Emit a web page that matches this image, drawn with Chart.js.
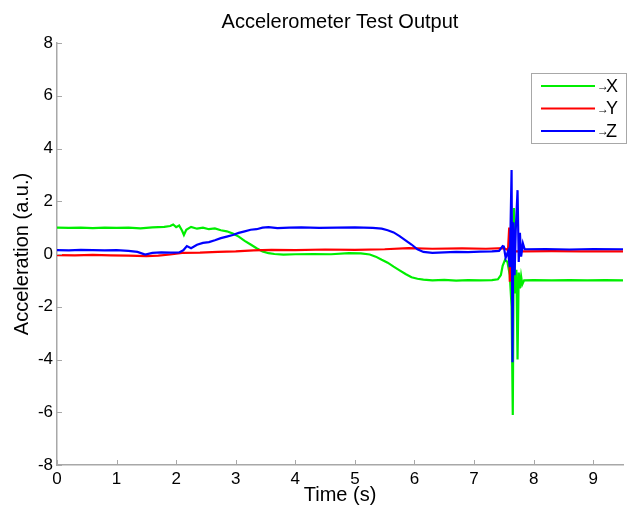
<!DOCTYPE html>
<html>
<head>
<meta charset="utf-8">
<script src="https://cdn.jsdelivr.net/npm/chart.js@4"></script>
<style>
html, body { margin: 0; padding: 0; background: #fff; }
</style>
</head>
<body>
<canvas id="chart" width="642" height="508"></canvas>
<script>
const chartTitle = 'Accelerometer Test Output'
const seriesLabels = ['→X', '→Y', '→Z']
const seriesColors = ['#00ee00', '#ff0000', '#0000ff']
const xTicks = [0, 1, 2, 3, 4, 5, 6, 7, 8, 9]
const yTicks = [-8, -6, -4, -2, 0, 2, 4, 6, 8]

// X axis (green)
const xTime = [0, 0.2, 0.4, 0.6, 0.8, 1.0, 1.2, 1.4, 1.6, 1.8, 1.9, 1.95, 2.0, 2.05, 2.1, 2.13, 2.17, 2.25, 2.35, 2.45,
	2.55, 2.65, 2.75, 2.85, 2.95, 3.05, 3.15, 3.25, 3.35, 3.45, 3.55, 3.65, 3.8, 4.0, 4.3, 4.6, 4.9, 5.1, 5.25, 5.35,
	5.45, 5.55, 5.65, 5.75, 5.85, 5.95, 6.05, 6.15, 6.3, 6.5, 6.7, 6.9, 7.1, 7.3, 7.4, 7.45, 7.48, 7.52, 7.56, 7.6,
	7.63, 7.65, 7.67, 7.69, 7.71, 7.73, 7.75, 7.77, 7.79, 7.81, 7.84, 8.0, 8.3, 8.6, 8.9, 9.2, 9.5]
const xAccel = [1.0, 0.99, 1.0, 0.98, 1.0, 0.99, 1.0, 0.97, 1.01, 1.03, 1.06, 1.12, 1.02, 1.08, 0.88, 0.72, 0.92, 1.03, 0.96, 1.0,
	0.94, 0.97, 0.9, 0.86, 0.78, 0.66, 0.5, 0.36, 0.22, 0.1, 0.03, 0.0, -0.02, -0.01, 0.0, -0.01, 0.03, 0.02, -0.02, -0.1,
	-0.22, -0.33, -0.48, -0.62, -0.76, -0.88, -0.94, -0.97, -1.0, -0.98, -1.01, -0.99, -1.0, -0.99, -0.96, -0.8, -0.45, -0.22, -0.3, -0.8,
	-2.0, -6.1, 1.74, -1.5, -0.6, -4.0, -0.7, -1.3, -0.85, -1.15, -1.0, -0.99, -1.0, -0.99, -1.0, -0.99, -1.0]

// Y axis (red)
const yTime = [0, 0.3, 0.6, 0.9, 1.2, 1.5, 1.7, 1.9, 2.1, 2.4, 2.7, 3.0, 3.3, 3.6, 4.0, 4.5, 5.0, 5.5, 5.9, 6.3,
	6.8, 7.2, 7.5, 7.57, 7.59, 7.6, 7.62, 7.7, 7.85, 8.3, 8.8, 9.5]
const yAccel = [-0.04, -0.05, -0.03, -0.05, -0.06, -0.08, -0.06, -0.02, 0.04, 0.05, 0.08, 0.1, 0.14, 0.16, 0.15, 0.17, 0.16, 0.18, 0.22, 0.2,
	0.21, 0.2, 0.22, 0.15, 1.0, -1.05, 0.2, 0.1, 0.1, 0.11, 0.1, 0.1]

// Z axis (blue)
const zTime = [0, 0.2, 0.4, 0.6, 0.8, 1.0, 1.2, 1.35, 1.48, 1.6, 1.75, 1.9, 2.05, 2.12, 2.18, 2.25, 2.35, 2.45, 2.55, 2.65,
	2.75, 2.85, 2.95, 3.05, 3.15, 3.25, 3.35, 3.45, 3.55, 3.7, 3.9, 4.1, 4.4, 4.7, 5.0, 5.3, 5.45, 5.55, 5.65, 5.75,
	5.85, 5.95, 6.05, 6.15, 6.3, 6.5, 6.7, 6.9, 7.1, 7.3, 7.42, 7.48, 7.5, 7.53, 7.57, 7.6, 7.63, 7.645, 7.66, 7.68,
	7.7, 7.73, 7.75, 7.77, 7.79, 7.82, 7.85, 8.2, 8.6, 9.0, 9.5]
const zAccel = [0.15, 0.14, 0.16, 0.15, 0.14, 0.15, 0.12, 0.08, -0.02, 0.04, 0.06, 0.05, 0.06, 0.14, 0.3, 0.22, 0.35, 0.42, 0.45, 0.52,
	0.6, 0.66, 0.72, 0.8, 0.86, 0.92, 0.94, 1.0, 1.02, 0.98, 1.0, 1.01, 0.99, 1.0, 1.01, 0.99, 0.96, 0.9, 0.82, 0.68,
	0.52, 0.36, 0.18, 0.08, 0.04, 0.06, 0.08, 0.07, 0.09, 0.1, 0.12, 0.3, 0.28, -0.15, 0.1, -0.5, 3.18, -4.1, 1.2, -0.8,
	0.9, 2.42, -0.3, 0.8, -0.1, 0.4, 0.18, 0.19, 0.17, 0.19, 0.18]

const toPoints = (times, values) => times.map((t, i) => ({ x: t, y: values[i] }))

const axisColor = '#a8a8a8'
const fontFamily = '"Liberation Sans", Arial, sans-serif'

const matlabLook = {
	id: 'matlabLook',
	afterDraw(chart) {
		const { ctx, chartArea, scales } = chart
		ctx.save()

		// inward tick marks
		ctx.strokeStyle = axisColor
		ctx.lineWidth = 1
		ctx.beginPath()
		xTicks.forEach((v) => {
			const px = Math.round(scales.x.getPixelForValue(v)) + 0.5
			ctx.moveTo(px, chartArea.bottom)
			ctx.lineTo(px, chartArea.bottom - 5)
		})
		yTicks.forEach((v) => {
			const py = Math.round(scales.y.getPixelForValue(v)) + 0.5
			ctx.moveTo(chartArea.left, py)
			ctx.lineTo(chartArea.left + 5, py)
		})
		ctx.stroke()

		// title centred over the axes
		ctx.fillStyle = '#000'
		ctx.font = '20px ' + fontFamily
		ctx.textAlign = 'center'
		ctx.textBaseline = 'middle'
		ctx.fillText(chartTitle, (chartArea.left + chartArea.right) / 2, 22)

		// legend box
		const bx = 531, by = 73, bw = 95, bh = 70
		ctx.fillStyle = '#fff'
		ctx.fillRect(bx, by, bw, bh)
		ctx.strokeStyle = '#a8a8a8'
		ctx.strokeRect(bx + 0.5, by + 0.5, bw, bh)
		chart.data.datasets.forEach((ds, i) => {
			const ly = 86 + i * 22.5
			ctx.strokeStyle = ds.borderColor
			ctx.lineWidth = 2
			ctx.beginPath()
			ctx.moveTo(541, ly)
			ctx.lineTo(595, ly)
			ctx.stroke()
			ctx.fillStyle = '#000'
			ctx.textAlign = 'left'
			ctx.font = '12px ' + fontFamily
			ctx.fillText(ds.label.charAt(0), 597, ly + 1)
			ctx.font = '18px ' + fontFamily
			ctx.fillText(ds.label.slice(1), 606, ly + 1)
		})
		ctx.restore()
	},
}

const ctx = document.getElementById('chart').getContext('2d')

new Chart(ctx, {
	type: 'scatter',
	data: {
		datasets: [
			{ label: seriesLabels[0], data: toPoints(xTime, xAccel), borderColor: seriesColors[0], order: 3 },
			{ label: seriesLabels[1], data: toPoints(yTime, yAccel), borderColor: seriesColors[1], order: 2 },
			{ label: seriesLabels[2], data: toPoints(zTime, zAccel), borderColor: seriesColors[2], order: 1 },
		].map((ds) => ({ ...ds, showLine: true, borderWidth: 2.2, pointRadius: 0, tension: 0, backgroundColor: ds.borderColor })),
	},
	options: {
		responsive: false,
		animation: false,
		devicePixelRatio: 1,
		layout: { padding: { top: 43, right: 19, left: 0, bottom: 0 } },
		plugins: {
			legend: { display: false },
			title: { display: false },
			tooltip: { enabled: false },
		},
		scales: {
			x: {
				type: 'linear',
				min: 0,
				max: 9.5,
				grid: { display: false, drawTicks: false },
				border: { display: true, color: axisColor, width: 1.5 },
				afterBuildTicks: (scale) => { scale.ticks = xTicks.map((v) => ({ value: v })) },
				afterFit: (scale) => { scale.height = 43 },
				ticks: { color: '#000', font: { family: fontFamily, size: 17 }, padding: 4, maxRotation: 0 },
				title: { display: true, text: 'Time (s)', color: '#000', font: { family: fontFamily, size: 20 }, padding: { top: 0, bottom: 1 } },
			},
			y: {
				type: 'linear',
				min: -8,
				max: 8,
				grid: { display: false, drawTicks: false },
				border: { display: true, color: axisColor, width: 1.5 },
				afterBuildTicks: (scale) => { scale.ticks = yTicks.map((v) => ({ value: v })) },
				afterFit: (scale) => { scale.width = 57 },
				ticks: { color: '#000', font: { family: fontFamily, size: 17 }, padding: 4 },
				title: { display: true, text: 'Acceleration (a.u.)', color: '#000', font: { family: fontFamily, size: 20 }, padding: { top: 10, bottom: 0 } },
			},
		},
	},
	plugins: [matlabLook],
})
</script>
</body>
</html>
